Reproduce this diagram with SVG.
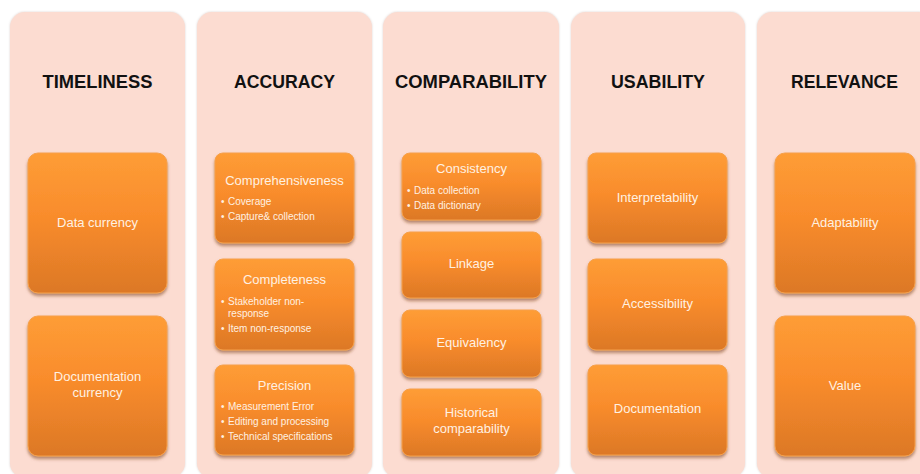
<svg xmlns="http://www.w3.org/2000/svg" width="920" height="474" viewBox="0 0 920 474">
<defs>
<linearGradient id="og" x1="0" y1="0" x2="0" y2="1">
<stop offset="0" stop-color="#FE9D36"/>
<stop offset="0.45" stop-color="#F98C2C"/>
<stop offset="1" stop-color="#DC7826"/>
</linearGradient>
<filter id="sh" x="-10%" y="-10%" width="120%" height="125%">
<feDropShadow dx="0" dy="2.5" stdDeviation="1.6" flood-color="#7a3a10" flood-opacity="0.55"/>
</filter>
<filter id="csh" x="-5%" y="-5%" width="110%" height="110%">
<feDropShadow dx="0" dy="0" stdDeviation="1" flood-color="#b09890" flood-opacity="0.45"/>
</filter>
</defs>
<style>
.col{fill:#FCDCD1;filter:url(#csh)}
.hd{font-family:"Liberation Sans",Arial,sans-serif;font-weight:bold;font-size:19px;fill:#111;text-anchor:middle}
.box{fill:url(#og);stroke:#F6A04A;stroke-width:1;filter:url(#sh)}
.t{font-family:"Liberation Sans",Arial,sans-serif;font-size:13px;fill:#FFF1E2;text-anchor:middle}
.b{font-family:"Liberation Sans",Arial,sans-serif;font-size:10px;fill:#FFF1E2}
</style>
<rect width="920" height="474" fill="#ffffff"/>

<g id="col-timeliness">
<rect class="col" x="10" y="12" width="175" height="466" rx="15"/>
<text class="hd" x="97.5" y="88" textLength="110" lengthAdjust="spacingAndGlyphs">TIMELINESS</text>
</g>
<g id="col-accuracy">
<rect class="col" x="197" y="12" width="175" height="466" rx="15"/>
<text class="hd" x="284.5" y="88" textLength="101" lengthAdjust="spacingAndGlyphs">ACCURACY</text>
</g>
<g id="col-comparability">
<rect class="col" x="383" y="12" width="176" height="466" rx="15"/>
<text class="hd" x="471" y="88" textLength="152" lengthAdjust="spacingAndGlyphs">COMPARABILITY</text>
</g>
<g id="col-usability">
<rect class="col" x="571" y="12" width="174" height="466" rx="15"/>
<text class="hd" x="658" y="88" textLength="94" lengthAdjust="spacingAndGlyphs">USABILITY</text>
</g>
<g id="col-relevance">
<rect class="col" x="757" y="12" width="176" height="466" rx="15"/>
<text class="hd" x="844.5" y="88" textLength="107" lengthAdjust="spacingAndGlyphs">RELEVANCE</text>
</g>

<g id="connectors"></g>

<g id="n-data-currency">
<rect class="box" x="28" y="153" width="139" height="140" rx="10"/>
<text class="t" x="97.5" y="227">Data currency</text>
</g>
<g id="n-documentation-currency">
<rect class="box" x="28" y="316" width="139" height="140" rx="10"/>
<text class="t" x="97.5" y="381">Documentation</text>
<text class="t" x="97.5" y="397">currency</text>
</g>

<g id="n-comprehensiveness">
<rect class="box" x="215" y="153" width="139" height="90" rx="8"/>
<text class="t" x="284.5" y="185">Comprehensiveness</text>
<text class="b" x="221" y="205">•</text><text class="b" x="228" y="205">Coverage</text>
<text class="b" x="221" y="220">•</text><text class="b" x="228" y="220">Capture&amp; collection</text>
</g>
<g id="n-completeness">
<rect class="box" x="215" y="259" width="139" height="91" rx="8"/>
<text class="t" x="284.5" y="284">Completeness</text>
<text class="b" x="221" y="305">•</text><text class="b" x="228" y="305">Stakeholder non-</text>
<text class="b" x="228" y="317">response</text>
<text class="b" x="221" y="332">•</text><text class="b" x="228" y="332">Item non-response</text>
</g>
<g id="n-precision">
<rect class="box" x="215" y="365" width="139" height="90" rx="8"/>
<text class="t" x="284.5" y="390">Precision</text>
<text class="b" x="221" y="410">•</text><text class="b" x="228" y="410">Measurement Error</text>
<text class="b" x="221" y="425">•</text><text class="b" x="228" y="425">Editing and processing</text>
<text class="b" x="221" y="440">•</text><text class="b" x="228" y="440">Technical specifications</text>
</g>

<g id="n-consistency">
<rect class="box" x="402" y="153" width="139" height="67" rx="8"/>
<text class="t" x="471.5" y="173">Consistency</text>
<text class="b" x="407" y="194">•</text><text class="b" x="414" y="194">Data collection</text>
<text class="b" x="407" y="209">•</text><text class="b" x="414" y="209">Data dictionary</text>
</g>
<g id="n-linkage">
<rect class="box" x="402" y="232" width="139" height="66" rx="8"/>
<text class="t" x="471.5" y="268">Linkage</text>
</g>
<g id="n-equivalency">
<rect class="box" x="402" y="310" width="139" height="67" rx="8"/>
<text class="t" x="471.5" y="347">Equivalency</text>
</g>
<g id="n-historical-comparability">
<rect class="box" x="402" y="389" width="139" height="67" rx="8"/>
<text class="t" x="471.5" y="417">Historical</text>
<text class="t" x="471.5" y="433">comparability</text>
</g>

<g id="n-interpretability">
<rect class="box" x="588" y="153" width="139" height="90" rx="8"/>
<text class="t" x="657.5" y="202">Interpretability</text>
</g>
<g id="n-accessibility">
<rect class="box" x="588" y="259" width="139" height="91" rx="8"/>
<text class="t" x="657.5" y="308">Accessibility</text>
</g>
<g id="n-documentation">
<rect class="box" x="588" y="365" width="139" height="90" rx="8"/>
<text class="t" x="657.5" y="413">Documentation</text>
</g>

<g id="n-adaptability">
<rect class="box" x="775" y="153" width="140" height="140" rx="10"/>
<text class="t" x="845" y="227">Adaptability</text>
</g>
<g id="n-value">
<rect class="box" x="775" y="316" width="140" height="140" rx="10"/>
<text class="t" x="845" y="390">Value</text>
</g>
</svg>
